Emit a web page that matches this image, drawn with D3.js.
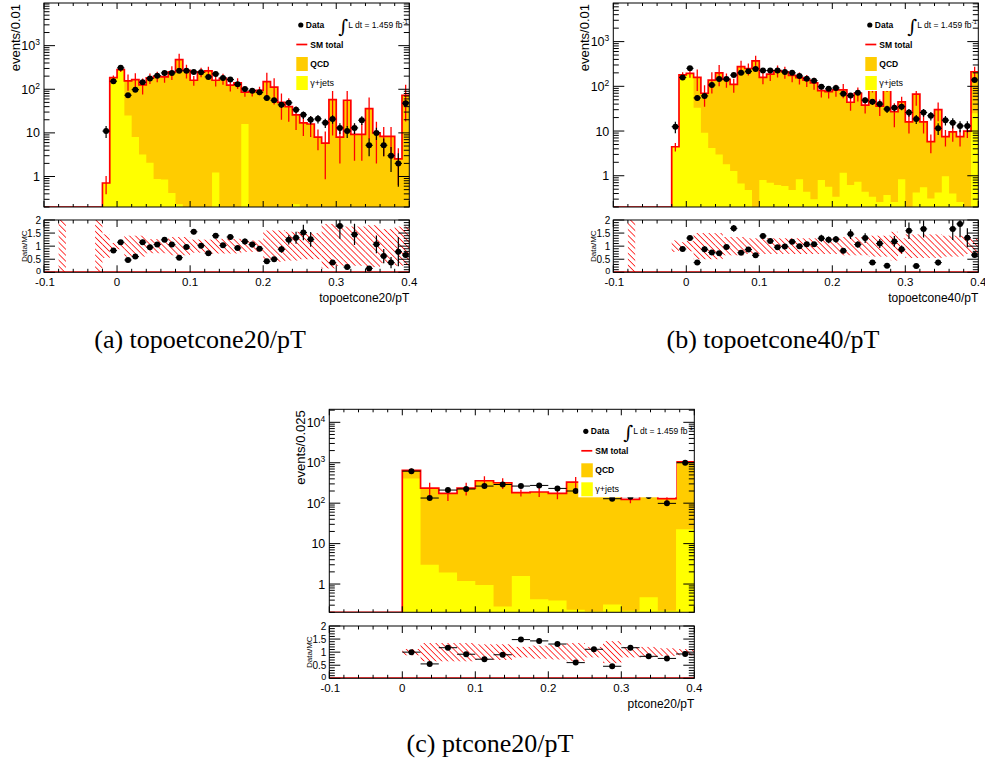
<!DOCTYPE html>
<html><head><meta charset="utf-8">
<script src="https://cdn.jsdelivr.net/npm/d3@7"></script>
<style>body{margin:0;background:#fff}</style>
</head><body>
<svg id="chart" width="985" height="767" xmlns="http://www.w3.org/2000/svg"></svg>
<script>
// ---------------- data ----------------
const xRange = [-0.1, 0.4];
const lumiText = "L dt = 1.459 fb";
const legendLabels = ["Data", "SM total", "QCD", "\u03b3+jets"];

// (a) topoetcone20/pT, 50 bins of 0.01 from -0.1
const binWidthA = 0.01;
const smTotalA = [0,0,0,0,0,0,0,0,0.71,185,283,155,167,126,182,199,192,250,480,272,161,250,263,161,177,124,140,86,88,94,150,112,50,40,26,17,16,8,5.8,58,8,56,9.2,9.2,36,10,8.3,8.3,2.55,73];
const gammaA   = [0,0,0,0,0,0,0,0,0.71,185,283,25,8,3.2,2.06,0.88,0.85,0.42,0.23,0,0,0,0,1.24,0,0,0,16,0,0,0,0,0,0,0.23,0,0,0,0,0,0,0,0,0,0,0,0,0,0,0];
const dataA    = [0,0,0,0,0,0,0,0,11,153,310,73,98,145,176,205,237,237,265,265,250,245,192,225,182,167,130,102,93,85,63,56,44,49,34,26,20,21,17,20.7,13,11,13,19.5,5.2,10,5.2,3.0,2.0,48];
const ratioA   = [null,null,null,null,null,null,null,null,null,0.83,1.15,0.47,0.6,1.15,0.96,1.06,1.24,1.06,0.56,0.97,1.55,1.02,0.73,1.40,1.03,1.35,0.93,1.18,1.06,0.9,0.42,0.5,0.88,1.24,1.32,1.52,1.26,null,null,0.37,1.77,0.2,1.45,null,0.15,1.07,0.62,0.37,0.79,0.66];
const mcErrA   = [0,0,99,0,0,0,0,99,0.45,0.12,0.12,0.4,0.4,0.4,0.27,0.27,0.27,0.35,0.35,0.35,0.25,0.25,0.25,0.28,0.28,0.28,0.28,0.22,0.22,0.22,0.6,0.6,0.6,0.55,0.55,0.5,0.5,0.5,0.85,0.85,0.75,0.75,0.75,0.75,0.8,0.8,0.65,0.65,0.75,0.75];

// (b) topoetcone40/pT, 50 bins of 0.01 from -0.1
const binWidthB = 0.01;
const smTotalB = [0,0,0,0,0,0,0,0,4.45,180,195,158,70,138,200,143,110,275,250,370,158,188,225,212,176,156,138,120,80,76,83,83,44,70,38,122,36,124,27,45,16,67,16,5.8,30,7.5,9.6,7.5,10,212];
const gammaB   = [0,0,0,0,0,0,0,0,4.45,180,190,33,9.2,4.2,3.0,1.8,1.27,0.67,0.48,0,0.8,0.7,0.62,0.59,0.48,0.83,0.44,0.3,0.8,0.57,0.34,1.17,0.62,0.73,0.44,0.34,0.26,0.37,0.26,0.83,0,0.42,0.55,0.31,0.42,0.98,0.4,0.26,0,25];
const dataB    = [0,0,0,0,0,0,0,0,12.5,158,253,55,61,107,145,145,178,200,216,245,225,225,225,210,200,170,148,134,98,88,92,68,62,72,49,45,40,31,33,35,26,18.6,26,22,11.5,17.5,15.3,13,13,139];
const ratioB   = [null,null,null,null,null,null,null,null,null,0.89,1.31,0.37,0.88,0.76,0.73,0.97,1.68,0.75,0.87,0.65,1.39,1.2,0.96,0.99,1.17,1.0,1.07,1.07,1.3,1.24,1.26,0.82,1.46,1.06,1.31,0.37,1.1,0.25,1.18,0.88,1.59,0.24,1.66,null,0.37,null,1.66,1.85,1.32,0.66];
const mcErrB   = [0,0,99,0,0,0,0,0,0.22,0.15,0.2,0.5,0.5,0.5,0.5,0.35,0.35,0.35,0.3,0.3,0.3,0.3,0.3,0.3,0.3,0.3,0.3,0.3,0.3,0.3,0.3,0.35,0.35,0.35,0.35,0.4,0.4,0.4,0.55,0.3,0.45,0.45,0.45,0.45,0.45,0.4,0.4,0.4,0.3,0.3];

// (c) ptcone20/pT, 20 bins of 0.025 from -0.1
const binWidthC = 0.025;
const smTotalC = [0,0,0,0,645,237,175,237,359,320,182,189,175,330,200,280,124,165,129,1050];
const gammaC   = [0,0,0,0,410,3.0,1.94,1.19,0.95,0.28,1.57,0.42,0.39,0.23,0.21,0.31,0.22,0.47,0.22,22.7];
const dataC    = [0,0,0,0,620,134,211,224,265,290,265,275,232,200,222,129,145,150,99,1000];
const ratioC   = [null,null,null,null,1.0,0.55,1.17,0.92,0.73,0.9,1.48,1.43,1.31,0.6,1.11,0.46,1.17,0.84,0.76,0.93];
const mcErrC   = [0,0,0,0,0.12,0.35,0.35,0.35,0.3,0.3,0.2,0.25,0.28,0.35,0.2,0.42,0.2,0.2,0.15,0.12];

const xTickLabels = ["-0.1","0","0.1","0.2","0.3","0.4"];
const ratioTickLabels = ["0","0.5","1","1.5","2"];

// ---------------- drawing ----------------
const svg = d3.select("#chart");
svg.append("rect").attr("width",985).attr("height",767).attr("fill","#fff");
const FONT = "'Liberation Sans', Arial, Helvetica, sans-serif";
const QCD_COL = "#ffcc00", GAM_COL = "#ffff00", RED = "#ff0000";

const defs = svg.append("defs");
const pat = defs.append("pattern").attr("id","hatch").attr("patternUnits","userSpaceOnUse")
  .attr("width",4.2).attr("height",4.2).attr("patternTransform","rotate(-45)");
pat.append("line").attr("x1",0).attr("y1",0).attr("x2",0).attr("y2",4.2)
  .attr("stroke",RED).attr("stroke-width",1.5);

function drawPanel(P, id) {
  const g = svg.append("g");
  const n = P.total.length;
  const yMin = 0.2;
  const x = d3.scaleLinear().domain(xRange).range([P.left, P.right]);
  const y = d3.scaleLog().domain([yMin, P.yMax]).range([P.mb, P.mt]);
  const yr = d3.scaleLinear().domain([0, 2]).range([P.rb, P.rt]);
  const lo = i => xRange[0] + i * P.bw, hi = i => xRange[0] + (i + 1) * P.bw, mid = i => xRange[0] + (i + 0.5) * P.bw;
  const yv = v => y(Math.max(v, yMin));

  defs.append("clipPath").attr("id","cm"+id).append("rect")
    .attr("x",P.left).attr("y",P.mt).attr("width",P.right-P.left).attr("height",P.mb-P.mt);
  defs.append("clipPath").attr("id","cr"+id).append("rect")
    .attr("x",P.left).attr("y",P.rt).attr("width",P.right-P.left).attr("height",P.rb-P.rt);

  // ---- main pad ----
  const m = g.append("g").attr("clip-path","url(#cm"+id+")");
  const idx = d3.range(n);
  const stepOf = arr => { const p = idx.map(i => [x(lo(i)), yv(arr[i])]); p.push([x(hi(n-1)), yv(arr[n-1])]); return p; };
  const area = d3.area().curve(d3.curveStepAfter).x(d => d[0]).y0(P.mb).y1(d => d[1]);
  m.append("path").attr("d", area(stepOf(P.total))).attr("fill", QCD_COL);
  m.append("path").attr("d", area(stepOf(P.gamma))).attr("fill", GAM_COL);
  m.append("path").attr("d", d3.line().curve(d3.curveStepAfter)(stepOf(P.total)))
    .attr("fill","none").attr("stroke",RED).attr("stroke-width",1.7);
  // MC error bars
  m.selectAll("line.mce").data(idx.filter(i => P.total[i] > 0 && P.err[i] < 5)).join("line")
    .attr("x1", i => x(mid(i))).attr("x2", i => x(mid(i)))
    .attr("y1", i => yv(P.total[i] * (1 + P.err[i]))).attr("y2", i => yv(P.total[i] * (1 - P.err[i])))
    .attr("stroke",RED).attr("stroke-width",1.3);
  // data
  const di = idx.filter(i => P.data[i] > 0);
  m.selectAll("line.dh").data(di).join("line")
    .attr("x1", i => x(lo(i))).attr("x2", i => x(hi(i)))
    .attr("y1", i => yv(P.data[i])).attr("y2", i => yv(P.data[i]))
    .attr("stroke","#000").attr("stroke-width",1);
  m.selectAll("line.dv").data(di).join("line")
    .attr("x1", i => x(mid(i))).attr("x2", i => x(mid(i)))
    .attr("y1", i => yv(P.data[i] + Math.sqrt(P.data[i]))).attr("y2", i => yv(P.data[i] - Math.sqrt(P.data[i])))
    .attr("stroke","#000").attr("stroke-width",1.2);
  m.selectAll("circle.d").data(di).join("circle")
    .attr("cx", i => x(mid(i))).attr("cy", i => yv(P.data[i])).attr("r", 3).attr("fill","#000");

  // ---- legend ----
  const R = P.right, T = P.mt;
  g.append("rect").attr("x", R - 116).attr("y", T + 11).attr("width", 98).attr("height", 77).attr("fill","#fff");
  const lt = (tx, ty, s) => g.append("text").attr("x", tx).attr("y", ty).attr("font-family", FONT)
    .attr("font-size", 8.5).attr("font-weight","bold").attr("fill","#000").text(s);
  g.append("circle").attr("cx", R - 108.5).attr("cy", T + 22).attr("r", 2.6).attr("fill","#000");
  lt(R - 103.5, T + 25, legendLabels[0]);
  g.append("text").attr("x", R - 71).attr("y", T + 30).attr("font-family","'DejaVu Serif', serif")
    .attr("font-size", 19).attr("fill","#000").text("\u222b");
  const lu = g.append("text").attr("x", R - 61).attr("y", T + 25).attr("font-family", FONT)
    .attr("font-size", 8.5).attr("fill","#000");
  lu.append("tspan").text(lumiText);
  lu.append("tspan").attr("dy", -4).attr("font-size", 6).text("-1");
  g.append("line").attr("x1", R - 113).attr("x2", R - 102).attr("y1", T + 41.5).attr("y2", T + 41.5)
    .attr("stroke", RED).attr("stroke-width", 1.7);
  lt(R - 99, T + 45, legendLabels[1]);
  g.append("rect").attr("x", R - 113).attr("y", T + 54).attr("width", 11.5).attr("height", 14).attr("fill", QCD_COL);
  lt(R - 99, T + 64, legendLabels[2]);
  g.append("rect").attr("x", R - 113).attr("y", T + 73).attr("width", 11.5).attr("height", 14).attr("fill", GAM_COL);
  lt(R - 99, T + 83, legendLabels[3]).attr("font-weight","normal").attr("font-size",9);

  // ---- ratio pad ----
  const r = g.append("g").attr("clip-path","url(#cr"+id+")");
  r.selectAll("rect.band").data(idx.filter(i => P.err[i] > 0)).join("rect")
    .attr("x", i => x(lo(i))).attr("width", i => x(hi(i)) - x(lo(i)))
    .attr("y", i => yr(Math.min(2, 1 + P.err[i]))).attr("height", i => yr(Math.max(0, 1 - P.err[i])) - yr(Math.min(2, 1 + P.err[i])))
    .attr("fill","url(#hatch)");
  r.append("line").attr("x1", P.left).attr("x2", P.right).attr("y1", yr(0) - 0.5).attr("y2", yr(0) - 0.5)
    .attr("stroke", RED).attr("stroke-width", 1.2);
  const ri = idx.filter(i => P.ratio[i] !== null && P.data[i] > 0);
  r.selectAll("line.rh").data(ri).join("line")
    .attr("x1", i => x(lo(i))).attr("x2", i => x(hi(i)))
    .attr("y1", i => yr(P.ratio[i])).attr("y2", i => yr(P.ratio[i]))
    .attr("stroke","#000").attr("stroke-width",1);
  r.selectAll("line.rv").data(ri).join("line")
    .attr("x1", i => x(mid(i))).attr("x2", i => x(mid(i)))
    .attr("y1", i => yr(P.ratio[i] * (1 + 1 / Math.sqrt(P.data[i])))).attr("y2", i => yr(P.ratio[i] * (1 - 1 / Math.sqrt(P.data[i]))))
    .attr("stroke","#000").attr("stroke-width",1.2);
  r.selectAll("circle.r").data(ri).join("circle")
    .attr("cx", i => x(mid(i))).attr("cy", i => yr(P.ratio[i])).attr("r", 3).attr("fill","#000");

  // ---- frames and ticks ----
  const ax = g.append("g").attr("stroke","#000").attr("stroke-width",1).attr("fill","none");
  ax.append("rect").attr("x",P.left).attr("y",P.mt).attr("width",P.right-P.left).attr("height",P.mb-P.mt);
  ax.append("rect").attr("x",P.left).attr("y",P.rt).attr("width",P.right-P.left).attr("height",P.rb-P.rt);
  const tick = (x1,y1,x2,y2) => ax.append("line").attr("x1",x1).attr("y1",y1).attr("x2",x2).attr("y2",y2);
  d3.range(26).forEach(k => {
    const xv = x(xRange[0] + k * 0.02), maj = k % 5 === 0;
    const lm = maj ? 6 : 3, lr = maj ? 7 : 3.5;
    tick(xv, P.mb, xv, P.mb - lm); tick(xv, P.mt, xv, P.mt + lm);
    tick(xv, P.rb, xv, P.rb - lr); tick(xv, P.rt, xv, P.rt + lr);
  });
  for (let e = -1; e <= 5; e++) for (let k = 1; k <= 9; k++) {
    const v = k * Math.pow(10, e);
    if (v < yMin || v > P.yMax) continue;
    const yy = y(v), len = k === 1 ? 11 : 5.5;
    tick(P.left, yy, P.left + len, yy); tick(P.right, yy, P.right - len, yy);
  }
  d3.range(21).forEach(k => {
    const yy = yr(k * 0.1), len = k % 5 === 0 ? 11 : 5.5;
    tick(P.left, yy, P.left + len, yy); tick(P.right, yy, P.right - len, yy);
  });

  // ---- labels ----
  const tx = g.append("g").attr("font-family", FONT).attr("fill","#000");
  [1, 10, 100, 1000, 10000].filter(v => v <= P.yMax).forEach(v => {
    const t = tx.append("text").attr("x", P.left - 4).attr("y", y(v) + 4.5).attr("text-anchor","end").attr("font-size", 12.5);
    const ex = Math.round(Math.log10(v));
    if (ex <= 1) t.text(String(v));
    else { t.append("tspan").text("10"); t.append("tspan").attr("dy", -5).attr("font-size", 8.5).text(String(ex)); }
  });
  tx.append("text").attr("transform", `translate(${P.left - 24},${P.mt + 1}) rotate(-90)`)
    .attr("text-anchor","end").attr("font-size", 13).text(P.yTitle);
  ratioTickLabels.forEach((s, k) => {
    tx.append("text").attr("x", P.left - 3).attr("y", yr(k * 0.5) + (k === 0 ? 1.5 : 3.5)).attr("text-anchor","end")
      .attr("font-size", k === 0 ? 9 : 10).text(s);
  });
  tx.append("text").attr("transform", `translate(${P.left - 17},${(P.rt + P.rb) / 2}) rotate(-90)`)
    .attr("text-anchor","middle").attr("font-size", 8).text("Data/MC");
  xTickLabels.forEach((s, k) => {
    tx.append("text").attr("x", x(xRange[0] + k * 0.1) + (k === 0 ? 1 : 0)).attr("y", P.rb + 14)
      .attr("text-anchor","middle").attr("font-size", 11.5).text(s);
  });
  tx.append("text").attr("x", P.right).attr("y", P.rb + 30).attr("text-anchor","end")
    .attr("font-size", 12).text(P.xTitle);
  g.append("text").attr("x", P.capX).attr("y", P.capY).attr("text-anchor","middle")
    .attr("font-family","'Liberation Serif', 'Times New Roman', serif").attr("font-size", 26)
    .attr("fill","#000").text(P.caption);
}

drawPanel({left:44, right:409.3, mt:3, mb:207, rt:220, rb:272.3, yMax:9500, bw:binWidthA,
  total:smTotalA, gamma:gammaA, data:dataA, ratio:ratioA, err:mcErrA,
  yTitle:"events/0.01", xTitle:"topoetcone20/pT", caption:"(a) topoetcone20/pT", capX:200, capY:348}, "a");
drawPanel({left:613.3, right:978.3, mt:3, mb:207, rt:220, rb:272.3, yMax:7300, bw:binWidthB,
  total:smTotalB, gamma:gammaB, data:dataB, ratio:ratioB, err:mcErrB,
  yTitle:"events/0.01", xTitle:"topoetcone40/pT", caption:"(b) topoetcone40/pT", capX:773, capY:348}, "b");
drawPanel({left:329.3, right:694.3, mt:409.3, mb:612.3, rt:626, rb:678.3, yMax:21000, bw:binWidthC,
  total:smTotalC, gamma:gammaC, data:dataC, ratio:ratioC, err:mcErrC,
  yTitle:"events/0.025", xTitle:"ptcone20/pT", caption:"(c) ptcone20/pT", capX:490, capY:752}, "c");
</script>
</body></html>
